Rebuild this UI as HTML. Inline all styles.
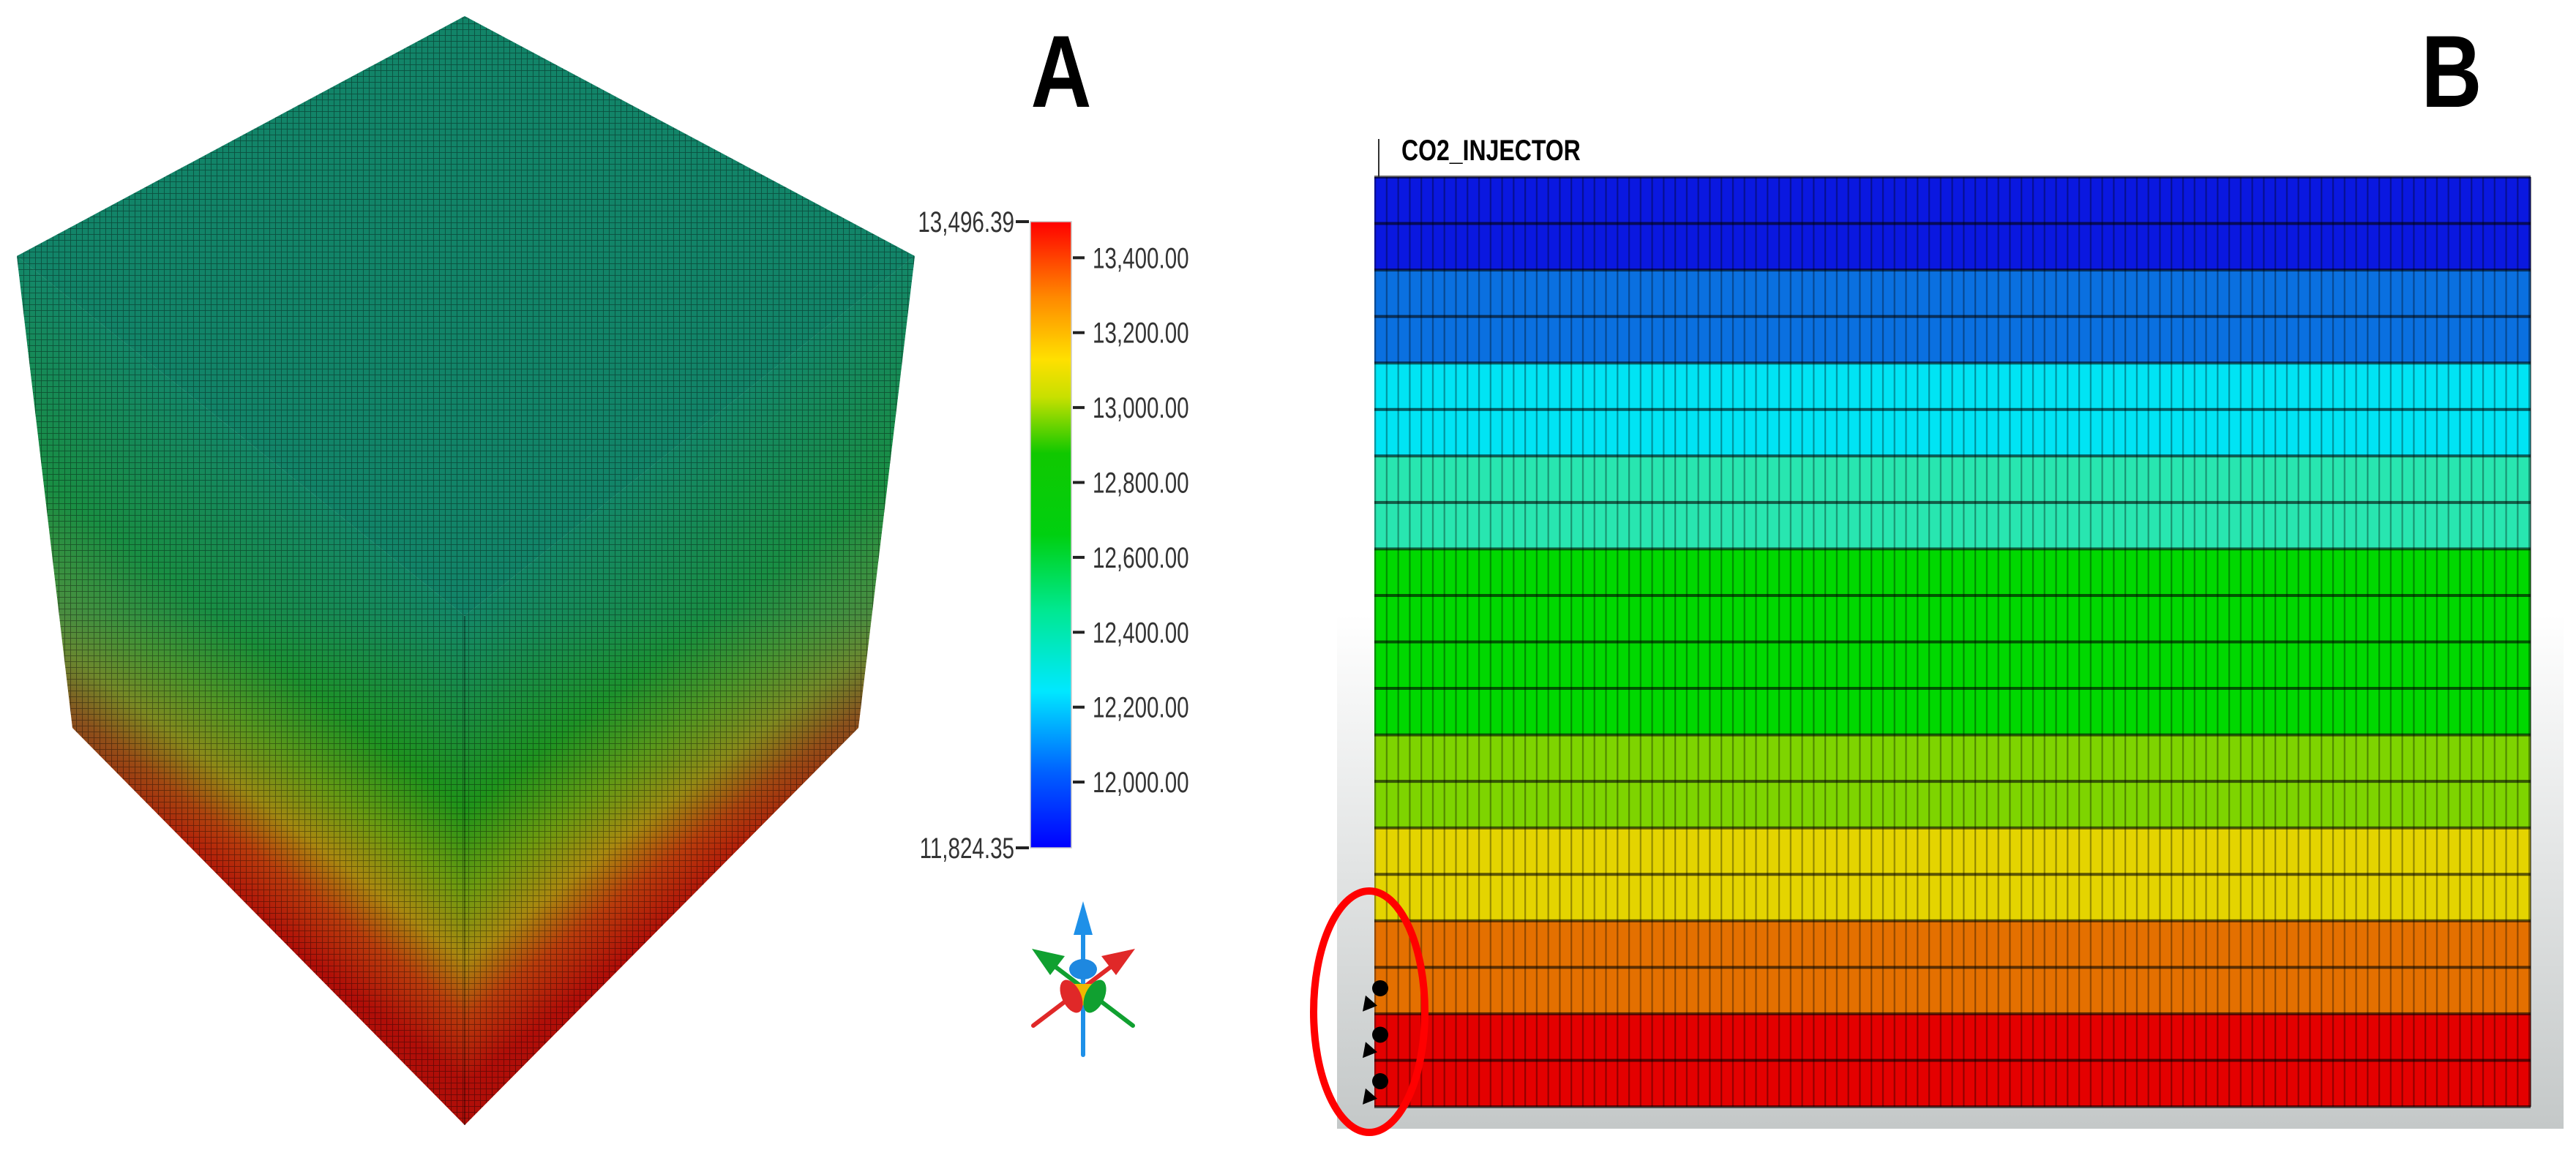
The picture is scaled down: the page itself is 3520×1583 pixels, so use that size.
<!DOCTYPE html>
<html><head><meta charset="utf-8"><style>
html,body{margin:0;padding:0;background:#fff}
svg{display:block}
</style></head><body>
<svg id="fig" width="3520" height="1583" viewBox="0 0 3520 1583" xmlns="http://www.w3.org/2000/svg">
<defs>
<linearGradient id="gLeft" gradientUnits="userSpaceOnUse" x1="329" y1="596" x2="16" y2="1000">
<stop offset="0" stop-color="#148868"/><stop offset="0.22" stop-color="#1a8c3c"/><stop offset="0.42" stop-color="#1f9418"/><stop offset="0.6" stop-color="#6e9a10"/><stop offset="0.74" stop-color="#a88810"/><stop offset="0.86" stop-color="#b83c0c"/><stop offset="1" stop-color="#b00e08"/>
</linearGradient>
<linearGradient id="gRight" gradientUnits="userSpaceOnUse" x1="942" y1="596" x2="1256" y2="1000">
<stop offset="0" stop-color="#148868"/><stop offset="0.22" stop-color="#1a8c3c"/><stop offset="0.42" stop-color="#1f9418"/><stop offset="0.6" stop-color="#6e9a10"/><stop offset="0.74" stop-color="#a88810"/><stop offset="0.86" stop-color="#b83c0c"/><stop offset="1" stop-color="#b00e08"/>
</linearGradient>
<linearGradient id="gCenter" gradientUnits="userSpaceOnUse" x1="0" y1="842" x2="0" y2="1538">
<stop offset="0" stop-color="#148868" stop-opacity="0.9"/><stop offset="0.45" stop-color="#1f9020" stop-opacity="0"/>
</linearGradient>
<pattern id="mesh" width="8" height="8" patternUnits="userSpaceOnUse">
<rect width="8" height="8" fill="none"/><path d="M0 0H8M0 0V8" stroke="#000" stroke-opacity="0.4" stroke-width="1.8"/>
</pattern>
<linearGradient id="bgGray" x1="0" y1="0" x2="0" y2="1">
<stop offset="0" stop-color="#fff"/><stop offset="1" stop-color="#c4c8c8"/>
</linearGradient>
<linearGradient id="cbar" x1="0" y1="1" x2="0" y2="0">
<stop offset="0" stop-color="#0000ff"/><stop offset="0.12" stop-color="#0060ff"/><stop offset="0.25" stop-color="#00e8ff"/><stop offset="0.38" stop-color="#00e890"/><stop offset="0.5" stop-color="#00d010"/><stop offset="0.63" stop-color="#10c800"/><stop offset="0.72" stop-color="#c8e000"/><stop offset="0.78" stop-color="#ffe000"/><stop offset="0.88" stop-color="#ff8800"/><stop offset="1" stop-color="#ff0000"/>
</linearGradient>
<pattern id="cols" width="15.77" height="64" patternUnits="userSpaceOnUse" x="1878">
<rect x="0" y="0" width="2.2" height="64" fill="#000" fill-opacity="0.35"/>
</pattern>
</defs>

<g>
<polygon points="635,22 1250,350 635,842 23,350" fill="#128468"/>
<polygon points="23,350 635,842 635,1538 99,995" fill="url(#gLeft)"/>
<polygon points="1250,350 635,842 635,1538 1173,995" fill="url(#gRight)"/>
<polygon points="23,350 635,842 635,1538 99,995" fill="url(#gCenter)" opacity="0.6"/>
<polygon points="1250,350 635,842 635,1538 1173,995" fill="url(#gCenter)" opacity="0.6"/>
<polygon points="635,22 1250,350 1173,995 635,1538 99,995 23,350" fill="url(#mesh)"/>
<line x1="635" y1="842" x2="635" y2="1538" stroke="#000" stroke-opacity="0.35" stroke-width="2"/>
<text x="1450" y="146" font-family="Liberation Sans, sans-serif" font-weight="bold" font-size="140" text-anchor="middle" transform="translate(1450 0) scale(0.82 1) translate(-1450 0)">A</text>
<g id="colorbar">
<rect x="1408" y="303" width="56" height="856" fill="url(#cbar)" stroke="#ccc" stroke-width="1.5"/>
</g>
<g stroke-linecap="round">
<line x1="1480" y1="1442" x2="1480" y2="1260" stroke="#1e90e8" stroke-width="6"/>
<polygon points="1480,1232 1467,1278 1493,1278" fill="#1e90e8"/>
<line x1="1412" y1="1402" x2="1520" y2="1320" stroke="#e02828" stroke-width="6"/>
<polygon points="1551,1297 1505,1307 1525,1333" fill="#e02828"/>
<line x1="1548" y1="1402" x2="1440" y2="1320" stroke="#10a030" stroke-width="6"/>
<polygon points="1410,1297 1435,1333 1455,1307" fill="#10a030"/>
<ellipse cx="1480" cy="1325" rx="19" ry="14" fill="#1e88e0"/>
<polygon points="1468,1345 1492,1345 1480,1375" fill="#f0b800"/>
<ellipse cx="1464" cy="1362" rx="13" ry="24" fill="#e02828" transform="rotate(-25 1464 1362)"/>
<ellipse cx="1496" cy="1362" rx="13" ry="24" fill="#10a030" transform="rotate(25 1496 1362)"/>
</g>
</g>

<g>
<rect x="1827" y="840" width="1676" height="703" fill="url(#bgGray)"/>
<g id="layers"></g>
<line x1="1884" y1="190" x2="1884" y2="242" stroke="#333" stroke-width="2"/>
<text x="1915" y="219" font-family="Liberation Sans, sans-serif" font-weight="bold" font-size="40" transform="translate(1915 0) scale(0.8 1) translate(-1915 0)">CO2_INJECTOR</text>
<text x="3350" y="146" font-family="Liberation Sans, sans-serif" font-weight="bold" font-size="140" text-anchor="middle" transform="translate(3350 0) scale(0.82 1) translate(-3350 0)">B</text>
<g id="perfs"></g>
<ellipse cx="1871" cy="1383" rx="76" ry="165" fill="none" stroke="#ff0000" stroke-width="10"/>
</g>
</svg>
<script>
// colorbar data
const cbMin = 11824.35;
const cbMax = 13496.39;
const cbTicks = [13400, 13200, 13000, 12800, 12600, 12400, 12200, 12000];
const cbTickLabels = ["13,400.00","13,200.00","13,000.00","12,800.00","12,600.00","12,400.00","12,200.00","12,000.00"];
const cbEndLabels = ["13,496.39","11,824.35"];
// panel B layer data (top to bottom)
const layerColors = ["#0a18e0","#0a18e0","#0a70e0","#0a70e0","#00e4f4","#00e4f4","#28e6b0","#28e6b0","#00d800","#00d800","#00d800","#00d800","#7ed400","#7ed400","#e4d400","#e4d400","#e47000","#e47000","#e40000","#e40000"];
const perforationLayers = [17, 18, 19];

const NS = "http://www.w3.org/2000/svg";
const cbTop = 303, cbBot = 1159;
function cbY(v){ return cbBot - (v - cbMin) / (cbMax - cbMin) * (cbBot - cbTop); }
const cb = document.getElementById('colorbar');
function mk(tag, attrs, parent){ const e = document.createElementNS(NS, tag); for (const k in attrs) e.setAttribute(k, attrs[k]); parent.appendChild(e); return e; }
cbTicks.forEach((v, i) => {
  const y = cbY(v);
  const t = mk('line', {x1:1466, y1:y, x2:1482, y2:y, stroke:'#222', 'stroke-width':4}, cb);
  
  
  const tx = mk('text', {x:1493, y:y+14, 'font-family':'Liberation Sans, sans-serif', 'font-size':40, fill:'#333', transform:`translate(1493 0) scale(0.74 1) translate(-1493 0)`}, cb);
  tx.textContent = cbTickLabels[i];
  
  
});
[cbMax, cbMin].forEach((v, i) => {
  const y = cbY(v);
  const t = mk('line', {x1:1388, y1:y, x2:1406, y2:y, stroke:'#222', 'stroke-width':4}, cb);
  
  
  const tx = mk('text', {x:1386, y:y+14, 'text-anchor':'end', 'font-family':'Liberation Sans, sans-serif', 'font-size':40, fill:'#333', transform:`translate(1386 0) scale(0.74 1) translate(-1386 0)`}, cb);
  tx.textContent = cbEndLabels[i];
  
  
});

// layers
const gx0 = 1878, gx1 = 3458, gy0 = 242, gy1 = 1513;
const rowH = (gy1 - gy0) / layerColors.length;
function rowY(i){ return gy0 + i * rowH; }
const lg = document.getElementById('layers');
layerColors.forEach((c, i) => {
  const r = mk('rect', {x:gx0, y:rowY(i), width:gx1-gx0, height:rowH, fill:c}, lg);
  
  
});
mk('rect', {x:gx0, y:gy0, width:gx1-gx0, height:gy1-gy0, fill:'url(#cols)'}, lg);
for (let i = 0; i <= layerColors.length; i++) {
  const l = mk('line', {x1:gx0, y1:rowY(i), x2:gx1, y2:rowY(i), stroke:'#000', 'stroke-opacity':0.6, 'stroke-width':4}, lg);
  
  
}
mk('line', {x1:gx1, y1:gy0, x2:gx1, y2:gy1, stroke:'#000', 'stroke-opacity':0.5, 'stroke-width':2}, lg);

const pf = document.getElementById('perfs');
perforationLayers.forEach(i => {
  const cy = rowY(i) + rowH * 0.45;
  const d = mk('circle', {cx:1886, cy:cy, r:11, fill:'#000'}, pf);
  
  
  const ty = rowY(i) + rowH * 0.95;
  const a = mk('polygon', {points:`${1862},${ty} ${1866},${ty-22} ${1882},${ty-8}`, fill:'#000'}, pf);
  
  
});
</script>
</body></html>
